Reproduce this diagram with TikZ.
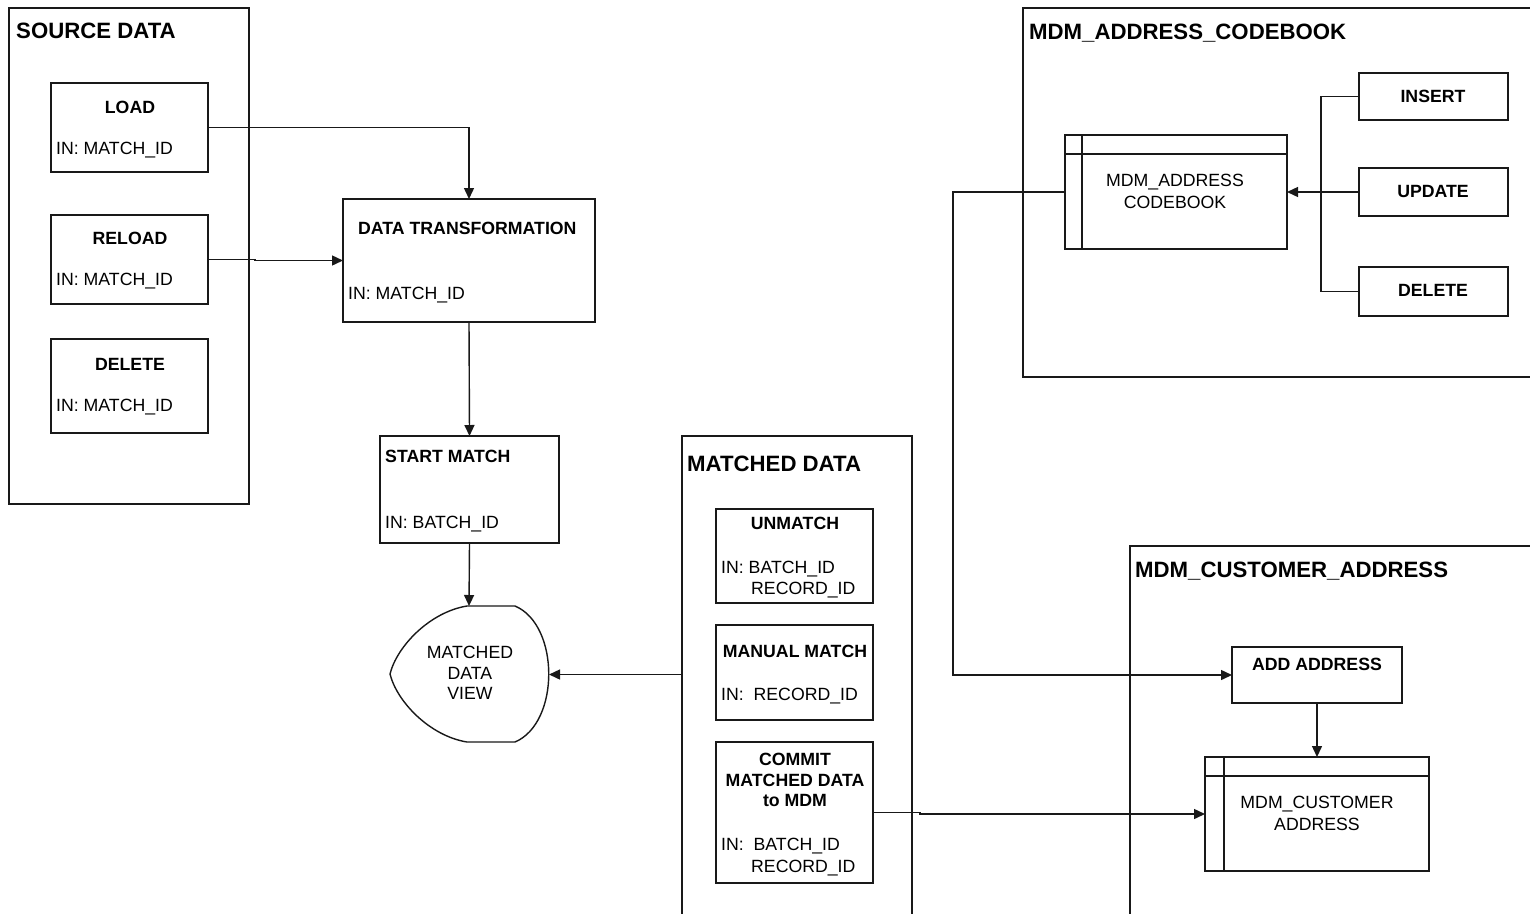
\documentclass[tikz,border=0pt]{standalone}
\usepackage{fontspec}
\setmainfont{Liberation Sans}
\usetikzlibrary{arrows.meta}

\tikzset{
  ln/.style={line width=1.4pt, draw=black!90},
  arr/.style={ln, -{Triangle[length=11pt,width=10pt]}},
  box/.style={ln, rectangle, inner sep=0pt, outer sep=0pt, anchor=north west},
  lbl/.style={font=\fontsize{17.7}{21}\selectfont, inner sep=0pt, anchor=base west},
  lblc/.style={font=\fontsize{17.7}{21}\selectfont, inner sep=0pt, anchor=base},
  ttl/.style={font=\bfseries\fontsize{17.7}{21}\selectfont, inner sep=0pt, anchor=base},
  ttlw/.style={font=\bfseries\fontsize{17.7}{21}\selectfont, inner sep=0pt, anchor=base west},
  grp/.style={font=\bfseries\fontsize{22.2}{26}\selectfont, inner sep=0pt, anchor=base west},
}

\begin{document}
\begin{tikzpicture}[x=1pt, y=-1pt]
\useasboundingbox (0,0) rectangle (1530,913);
\clip (0,0) rectangle (1530,913);

% ---------- group frames ----------
\node[box, minimum width=240, minimum height=496] (gsrc) at (9,8) {};
\node[grp] (gsrcT) at (16,38) {SOURCE DATA};

\node[box, minimum width=230, minimum height=500] (gmatched) at (682,436) {};
\node[grp] (gmatchedT) at (687,471) {MATCHED DATA};

\node[box, minimum width=530, minimum height=369] (gcode) at (1023,8) {};
\node[grp] (gcodeT) at (1029,39) {MDM\_ADDRESS\_CODEBOOK};

\node[box, minimum width=420, minimum height=400] (gcust) at (1130,546) {};
\node[grp] (gcustT) at (1135,577) {MDM\_CUSTOMER\_ADDRESS};

% ---------- source data ----------
\node[box, minimum width=157, minimum height=89] (load) at (51,83) {};
\node[ttl] (loadT) at (130,113) {LOAD};
\node[lbl] (loadI) at (56,154) {IN: MATCH\_ID};

\node[box, minimum width=157, minimum height=89] (reload) at (51,215) {};
\node[ttl] (reloadT) at (130,244) {RELOAD};
\node[lbl] (reloadI) at (56,285) {IN: MATCH\_ID};

\node[box, minimum width=157, minimum height=94] (sdelete) at (51,339) {};
\node[ttl] (sdeleteT) at (130,370) {DELETE};
\node[lbl] (sdeleteI) at (56,411) {IN: MATCH\_ID};

% ---------- processing ----------
\node[box, minimum width=252, minimum height=123] (dt) at (343,199) {};
\node[ttlw] (dtT) at (358,234) {DATA TRANSFORMATION};
\node[lbl] (dtI) at (348,299) {IN: MATCH\_ID};

\node[box, minimum width=179, minimum height=107] (start) at (380,436) {};
\node[ttlw] (startT) at (385,462) {START MATCH};
\node[lbl] (startI) at (385,528) {IN: BATCH\_ID};

% matched data view (display shape)
\coordinate (mdvtop) at (469,606);
\coordinate (mdvright) at (549,674.5);
\draw[ln] (467,606) -- (515,606)
  .. controls (560,625) and (560,723) .. (515,742) -- (467,742)
  .. controls (430,736) and (397,702) .. (390,674)
  .. controls (397,646) and (430,612) .. (467,606) -- cycle;
\node[lblc, align=center, anchor=center] (mdvT) at (470,673)
  {MATCHED\\[-0.5pt]DATA\\[-0.5pt]VIEW};

% ---------- matched data ----------
\node[box, minimum width=157, minimum height=94] (unmatch) at (716,509) {};
\node[ttl] (unmatchT) at (795,529) {UNMATCH};
\node[lbl] (unmatchI) at (721,573) {IN: BATCH\_ID};
\node[lbl] (unmatchR) at (751,594) {RECORD\_ID};

\node[box, minimum width=157, minimum height=95] (manual) at (716,625) {};
\node[ttl] (manualT) at (795,657) {MANUAL MATCH};
\node[lbl] (manualI) at (721,700) {IN:\ \ RECORD\_ID};

\node[box, minimum width=157, minimum height=141] (commit) at (716,742) {};
\node[ttl] (commitT1) at (795,765) {COMMIT};
\node[ttl] (commitT2) at (795,786) {MATCHED DATA};
\node[ttl] (commitT3) at (795,806) {to MDM};
\node[lbl] (commitI) at (721,850) {IN:\ \ BATCH\_ID};
\node[lbl] (commitR) at (751,872) {RECORD\_ID};

% ---------- address codebook ----------
\node[box, minimum width=222, minimum height=114] (cbtbl) at (1065,135) {};
\draw[ln] ([yshift=-19pt]cbtbl.north west) -- ([yshift=-19pt]cbtbl.north east);
\draw[ln] ([xshift=17pt]cbtbl.north west) -- ([xshift=17pt]cbtbl.south west);
\node[lblc] (cbtblT1) at (1175,186) {MDM\_ADDRESS};
\node[lblc] (cbtblT2) at (1175,208) {CODEBOOK};

\node[box, minimum width=149, minimum height=47] (insert) at (1359,73) {};
\node[ttl] (insertT) at (1433,102) {INSERT};
\node[box, minimum width=149, minimum height=48] (update) at (1359,168) {};
\node[ttl] (updateT) at (1433,197) {UPDATE};
\node[box, minimum width=149, minimum height=49] (cdelete) at (1359,267) {};
\node[ttl] (cdeleteT) at (1433,296) {DELETE};

% ---------- customer address ----------
\node[box, minimum width=170, minimum height=56] (addaddr) at (1232,647) {};
\node[ttl] (addaddrT) at (1317,670) {ADD ADDRESS};

\node[box, minimum width=224, minimum height=114] (custtbl) at (1205,757) {};
\draw[ln] ([yshift=-19pt]custtbl.north west) -- ([yshift=-19pt]custtbl.north east);
\draw[ln] ([xshift=19pt]custtbl.north west) -- ([xshift=19pt]custtbl.south west);
\node[lblc] (custtblT1) at (1317,808) {MDM\_CUSTOMER};
\node[lblc] (custtblT2) at (1317,830) {ADDRESS};

% ---------- connectors ----------
\draw[arr] (load.east) -| (dt.north);
\draw[arr] (reload.east) -- ++(47,0) |- (dt.west);
\draw[arr] (dt.south) -- (start.north);
\draw[arr] (start.south) -- (mdvtop);
\coordinate (mdout) at (682,674.5);
\draw[arr] (mdout) -- (mdvright);
\draw[arr] (commit.east) -- ++(47,0) |- (custtbl.west);

\draw[ln] (insert.west) -- ++(-38,0) |- (cdelete.west);
\draw[arr] (update.west) -- (cbtbl.east);
\draw[arr] (cbtbl.west) -- ++(-112,0) |- (addaddr.west);
\draw[arr] (addaddr.south) -- (custtbl.north);
\end{tikzpicture}
\end{document}
